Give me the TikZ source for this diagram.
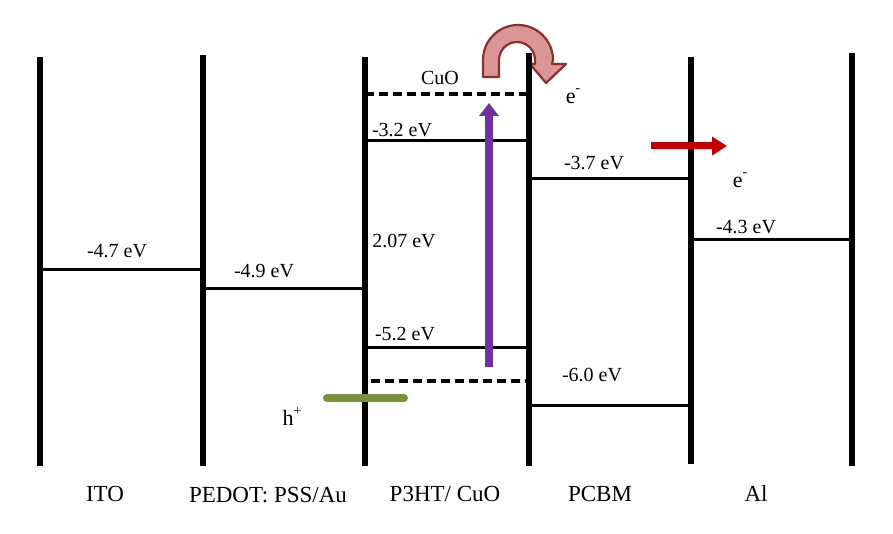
\documentclass[tikz,border=0pt]{standalone}
\usepackage{fontspec}
\setmainfont{Liberation Serif}
\usetikzlibrary{arrows.meta}
\definecolor{arrpurple}{HTML}{7030A0}
\definecolor{arrred}{HTML}{C00000}
\definecolor{arrgreen}{HTML}{77933C}
\definecolor{curvefill}{HTML}{D99694}
\definecolor{curvedraw}{HTML}{8B3030}
\tikzset{
  electrode/.style={line width=6pt},
  level/.style={line width=3pt},
  dlevel/.style={line width=3.4pt, dash pattern=on 9pt off 5pt},
  elabel/.style={font=\fontsize{20}{22}\selectfont, inner sep=0pt},
  clabel/.style={font=\fontsize{22}{24}\selectfont, inner sep=0pt},
  blabel/.style={font=\fontsize{23}{25}\selectfont, inner sep=0pt},
}
\newcommand{\supminus}{\raisebox{1.1ex}{\fontsize{14}{14}\selectfont -}}
\newcommand{\supplus}{\raisebox{1.0ex}{\fontsize{14}{14}\selectfont +}}
\begin{document}
\begin{tikzpicture}[x=1pt,y=1pt]
\useasboundingbox (0,0) rectangle (893,534);
\fill[white] (0,0) rectangle (893,534);
% curved arrow
\filldraw[fill=curvefill, draw=curvedraw, line width=2.2pt, line join=round]
  (483,457) -- (483,474) arc[start angle=180, end angle=0, radius=35]
  -- (552,470) -- (566,470) -- (546,451) -- (530,470) -- (535,470)
  -- (535,474) arc[start angle=0, end angle=180, radius=18]
  -- (499,457) -- cycle;
% electrodes
\coordinate (v1b) at (40,68);  \coordinate (v1t) at (40,477);
\coordinate (v2b) at (203,68); \coordinate (v2t) at (203,479);
\coordinate (v3b) at (365,68); \coordinate (v3t) at (365,477);
\coordinate (v4b) at (529,68); \coordinate (v4t) at (529,481);
\coordinate (v5b) at (691,70); \coordinate (v5t) at (691,477);
\coordinate (v6b) at (852,68); \coordinate (v6t) at (852,481);
\draw[electrode] (v1b) -- (v1t);
\draw[electrode] (v2b) -- (v2t);
\draw[electrode] (v3b) -- (v3t);
\draw[electrode] (v4b) -- (v4t);
\draw[electrode] (v5b) -- (v5t);
\draw[electrode] (v6b) -- (v6t);
% levels
\coordinate (itoL) at (40,264);   \coordinate (itoR) at (203,264);
\coordinate (pedL) at (203,245);  \coordinate (pedR) at (365,245);
\coordinate (cuoL) at (365,440);  \coordinate (cuoR) at (529,440);
\coordinate (lumL) at (365,393);  \coordinate (lumR) at (529,393);
\coordinate (homL) at (365,186);  \coordinate (homR) at (529,186);
\coordinate (cvL) at (371,153);   \coordinate (cvR) at (529,153);
\coordinate (pcL) at (529,355);   \coordinate (pcR) at (691,355);
\coordinate (phL) at (529,128);   \coordinate (phR) at (691,128);
\coordinate (alL) at (691,294);   \coordinate (alR) at (852,294);
\draw[level] (itoL) -- (itoR);
\draw[level] (pedL) -- (pedR);
\draw[dlevel] (cuoL) -- (cuoR);
\draw[level] (lumL) -- (lumR);
\draw[level] (homL) -- (homR);
\draw[dlevel] (cvL) -- (cvR);
\draw[level] (pcL) -- (pcR);
\draw[level] (phL) -- (phR);
\draw[level] (alL) -- (alR);
% energy labels
\node[elabel] (l47) at (117,283) {-4.7 eV};
\node[elabel] (l49) at (264,263) {-4.9 eV};
\node[elabel] (lcuo) at (440,456) {CuO};
\node[elabel] (l32) at (402,404) {-3.2 eV};
\node[elabel] (l207) at (404,293) {2.07 eV};
\node[elabel] (l52) at (405,200) {-5.2 eV};
\node[elabel] (l37) at (594,371) {-3.7 eV};
\node[elabel] (l60) at (592,159) {-6.0 eV};
\node[elabel] (l43) at (746,307) {-4.3 eV};
\node[clabel] (e1) at (573,438) {e\supminus};
\node[clabel] (e2) at (740,354) {e\supminus};
\node[clabel] (hp) at (292,117) {h\supplus};
% arrows
\coordinate (pS) at (489,167); \coordinate (pE) at (489,431);
\draw[arrpurple, line width=8pt, -{Triangle[length=13pt,width=19pt]}] (pS) -- (pE);
\coordinate (rS) at (651,388); \coordinate (rE) at (727,388);
\draw[arrred, line width=7pt, -{Triangle[length=15pt,width=18pt]}] (rS) -- (rE);
\coordinate (gS) at (404,136); \coordinate (gE) at (327,136);
\draw[arrgreen, line width=8pt, line cap=round] (gS) -- (gE);
% bottom labels
\node[blabel] (ito) at (105,40) {ITO};
\node[blabel] (ped) at (268,39) {PEDOT: PSS/Au};
\node[blabel] (p3) at (445,40) {P3HT/ CuO};
\node[blabel] (pcbm) at (600,40) {PCBM};
\node[blabel] (al) at (756,40) {Al};
\end{tikzpicture}
\end{document}
